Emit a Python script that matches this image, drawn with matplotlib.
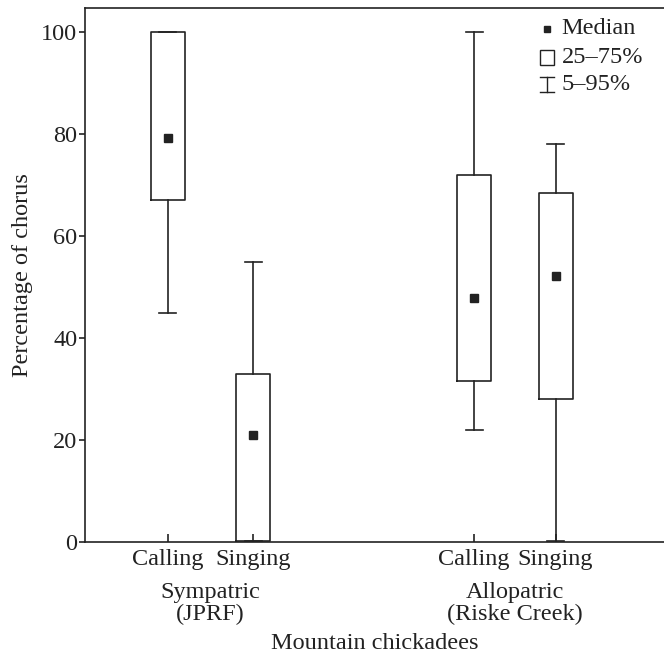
import matplotlib.pyplot as plt
from matplotlib.patches import Rectangle

plt.rcParams['font.family'] = ['Liberation Serif', 'DejaVu Serif']

# box summaries (percentage of chorus)
labels = ['Calling', 'Singing', 'Calling', 'Singing']
groups = ['Sympatric\n(JPRF)', 'Allopatric\n(Riske Creek)']
p5 = [45.0, 0.3, 22.0, 0.3]
q25 = [67.0, 0.3, 31.5, 28.1]
med = [79.2, 21.1, 47.8, 52.1]
q75 = [100.0, 33.0, 72.0, 68.5]
p95 = [100.0, 55.0, 100.0, 78.0]

pos = [1, 2, 4.6, 5.56]
ink = '#222222'
fs = 17.5

fig = plt.figure(figsize=(6.64, 6.58), dpi=100)
ax = fig.add_axes([0.128, 0.176, 0.872, 0.812])

stats = []
for i in range(len(labels)):
    stats.append(dict(whislo=p5[i], q1=q25[i], med=med[i], q3=q75[i],
                      whishi=p95[i], label=labels[i]))
ax.bxp(stats, positions=pos, widths=0.4, showfliers=False,
       boxprops=dict(color=ink, lw=1.2),
       whiskerprops=dict(color=ink, lw=1.2),
       capprops=dict(color=ink, lw=1.2),
       medianprops=dict(lw=0), capwidths=0.2)
ax.plot(pos, med, ls='none', marker='s', ms=5.5, color=ink)

ax.set_xlim(0.0235, 6.835)
ax.set_ylim(0, 104.7)
ax.set_yticks(range(0, 101, 20))
ax.set_xticks(pos)
ax.set_xticklabels(labels)
ax.tick_params(axis='y', direction='out', length=4.5, width=1.2, color=ink,
               labelsize=fs, labelcolor=ink, pad=1)
ax.tick_params(axis='x', direction='in', length=6, width=1.2, color=ink,
               labelsize=fs, labelcolor=ink, pad=5)
for s in ['left', 'bottom', 'top']:
    ax.spines[s].set_color(ink)
    ax.spines[s].set_linewidth(1.2)
ax.spines['right'].set_visible(False)

ax.set_ylabel('Percentage of chorus', fontsize=fs, color=ink, labelpad=6)

xt = ax.get_xaxis_transform()
for g, x in zip(groups, [(pos[0] + pos[1]) / 2, (pos[2] + pos[3]) / 2]):
    ax.text(x, -0.1145, g, ha='center', va='center', fontsize=fs, color=ink,
            linespacing=1.05, transform=xt)
ax.text(0.5, -0.1895, 'Mountain chickadees', ha='center', va='center',
        fontsize=fs, color=ink, transform=ax.transAxes)

# legend drawn by hand
lx, tx = 0.798, 0.823
ax.plot([lx], [0.961], marker='s', ms=4.5, color=ink, transform=ax.transAxes,
        clip_on=False)
ax.add_patch(Rectangle((lx - 0.012, 0.893), 0.024, 0.029, fill=False,
                       ec=ink, lw=1.0, transform=ax.transAxes))
ax.plot([lx, lx], [0.842, 0.870], color=ink, lw=1.0, transform=ax.transAxes)
ax.plot([lx - 0.012, lx + 0.012], [0.842, 0.842], color=ink, lw=1.0,
        transform=ax.transAxes)
ax.plot([lx - 0.012, lx + 0.012], [0.870, 0.870], color=ink, lw=1.0,
        transform=ax.transAxes)
for y, t in zip([0.961, 0.908, 0.856], ['Median', '25–75%', '5–95%']):
    ax.text(tx, y, t, va='center', ha='left', fontsize=fs, color=ink,
            transform=ax.transAxes)

fig.savefig('out.png', dpi=100)
